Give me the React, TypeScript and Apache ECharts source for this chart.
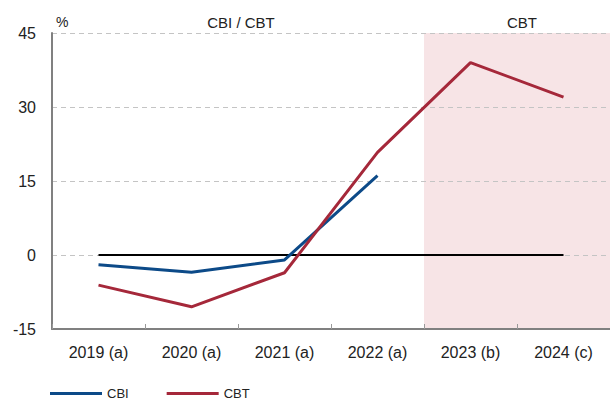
import { useEffect, useRef } from 'react';
import * as echarts from 'echarts';

const categories = ['2019 (a)', '2020 (a)', '2021 (a)', '2022 (a)', '2023 (b)', '2024 (c)'];
const cbiValues = [-2.0, -3.5, -1.0, 16.1, null, null];
const cbtValues = [-6.1, -10.5, -3.6, 20.8, 39.0, 32.0];
const zeroLine = [0, 0, 0, 0, 0, 0];
// shaded forecast band (CBT only)
const bandLow = [null, null, null, null, -15, -15];
const bandHigh = [null, null, null, null, 45, 45];
const yTicks = { min: -15, max: 45, interval: 15 };

const FONT = '"Liberation Sans", Arial, Helvetica, sans-serif';

export default function App() {
  const ref = useRef<HTMLDivElement>(null);

  useEffect(() => {
    if (!ref.current) return;
    const chart = echarts.init(ref.current, null, { renderer: 'svg' });

    const option: echarts.EChartsOption = {
      animation: false,
      textStyle: { fontFamily: FONT },
      // plot runs a little past the right edge, as in the source
      grid: { left: 52, top: 33, width: 561, height: 296, containLabel: false },
      legend: {
        data: ['CBI', 'CBT'],
        left: 50,
        top: 387,
        padding: 0,
        icon: 'rect',
        itemWidth: 52,
        itemHeight: 3,
        itemGap: 38,
        textStyle: {
          fontFamily: '"Liberation Sans Narrow", "Liberation Sans", sans-serif',
          fontSize: 13,
          color: '#222',
        },
      },
      graphic: [
        { type: 'text', x: 56, y: 22, style: { text: '%', fontSize: 14, fill: '#222', fontFamily: FONT, verticalAlign: 'middle' } },
        { type: 'text', x: 241, y: 22, style: { text: 'CBI / CBT', fontSize: 15, fill: '#222', fontFamily: FONT, align: 'center', verticalAlign: 'middle' } },
        { type: 'text', x: 522, y: 22, style: { text: 'CBT', fontSize: 15, fill: '#222', fontFamily: FONT, align: 'center', verticalAlign: 'middle' } },
      ],
      xAxis: {
        type: 'category',
        data: categories,
        boundaryGap: true,
        axisLine: { show: true, onZero: false, lineStyle: { color: '#808080', width: 2 } },
        axisTick: { show: true, inside: true, length: 5, lineStyle: { color: '#999', width: 1 } },
        axisLabel: { fontSize: 16, color: '#222', margin: 15, fontFamily: FONT },
        splitLine: { show: false },
      },
      yAxis: {
        type: 'value',
        min: yTicks.min,
        max: yTicks.max,
        interval: yTicks.interval,
        axisLine: { show: true, lineStyle: { color: '#808080', width: 2 } },
        axisTick: { show: false },
        axisLabel: { fontSize: 16, color: '#222', margin: 16, fontFamily: FONT },
        splitLine: { show: true, lineStyle: { color: '#c4c4c4', type: [5, 4], width: 1.2 } },
      },
      series: [
        {
          name: 'bandLow',
          type: 'bar',
          stack: 'band',
          data: bandLow,
          barWidth: '100%',
          itemStyle: { color: '#f7e4e6' },
          silent: true,
          z: -1,
        },
        {
          name: 'bandHigh',
          type: 'bar',
          stack: 'band',
          data: bandHigh,
          barWidth: '100%',
          itemStyle: { color: '#f7e4e6' },
          silent: true,
          z: -1,
        },
        {
          name: 'zero',
          type: 'line',
          data: zeroLine,
          symbol: 'none',
          lineStyle: { color: '#000', width: 2 },
          silent: true,
          z: 3,
        },
        {
          name: 'CBI',
          type: 'line',
          data: cbiValues,
          symbol: 'none',
          color: '#0c4a88',
          lineStyle: { color: '#0c4a88', width: 3 },
          z: 4,
        },
        {
          name: 'CBT',
          type: 'line',
          data: cbtValues,
          symbol: 'none',
          color: '#a5283a',
          lineStyle: { color: '#a5283a', width: 3 },
          z: 5,
        },
      ],
    };

    chart.setOption(option);
    return () => chart.dispose();
  }, []);

  return (
    <div
      ref={ref}
      style={{ position: 'absolute', left: 0, top: 0, width: 610, height: 400 }}
    />
  );
}
